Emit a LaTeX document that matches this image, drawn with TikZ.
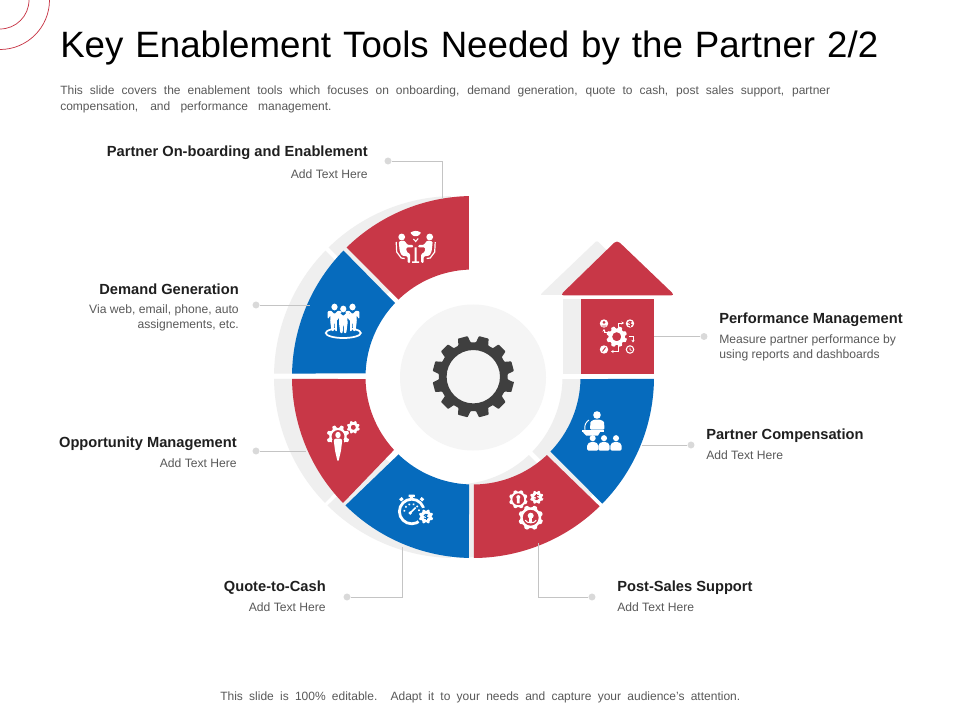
\documentclass[tikz,border=0pt]{standalone}
\usepackage{fontspec}
\usetikzlibrary{arrows.meta}
\setmainfont{Liberation Sans}
\definecolor{kred}{HTML}{C83747}
\definecolor{kblue}{HTML}{066BBD}
\definecolor{kshadow}{HTML}{EFEFEF}
\definecolor{kdisc}{HTML}{F5F5F5}
\definecolor{kgear}{HTML}{3F3F3F}
\definecolor{kline}{HTML}{C4C4C4}
\definecolor{kdot}{HTML}{D9D9D9}
\definecolor{ktext}{HTML}{595959}
\definecolor{khead}{HTML}{1F1F1F}
\tikzset{
 titletext/.style={inner sep=0,anchor=base west,font=\fontsize{27.5pt}{32pt}\selectfont,text=black},
 bodytext/.style={inner sep=0,anchor=base west,font=\fontsize{9pt}{11pt}\selectfont,text=ktext},
 headR/.style={inner sep=0,anchor=base east,font=\fontsize{11pt}{13pt}\bfseries\selectfont,text=khead},
 headL/.style={inner sep=0,anchor=base west,font=\fontsize{11pt}{13pt}\bfseries\selectfont,text=khead},
 subR/.style={inner sep=0,anchor=base east,font=\fontsize{9.1pt}{11pt}\selectfont,text=ktext},
 subL/.style={inner sep=0,anchor=base west,font=\fontsize{9.1pt}{11pt}\selectfont,text=ktext},
 dotnode/.style={circle,fill=kdot,inner sep=0,minimum size=5.2pt},
 conn/.style={draw=kline,line width=0.55pt},
}
\newcommand{\ringseg}[5]{\fill[#5] (#1:181) arc[start angle=#1,end angle=#2,radius=181] -- (#4:107.5) arc[start angle=#4,end angle=#3,radius=107.5] -- cycle;}
\newcommand{\allsegs}[2]{%
 \ringseg{91.27}{134.3}{92.14}{133.9}{#1}
 \ringseg{135.7}{178.9}{136.5}{178.1}{#2}
 \ringseg{180.6}{224.1}{181.1}{222.7}{#1}
 \ringseg{225.2}{268.7}{226.1}{267.9}{#2}
 \ringseg{270.3}{314.4}{270.5}{313.4}{#1}
 \ringseg{315.6}{359.4}{316.1}{358.9}{#2}
}
\newcommand{\gearfill}[7]{%
 \pgfmathsetmacro{\gstep}{360/#1}
 \fill[even odd rule,rounded corners=0.5] (#6-#4:#2)
 \foreach \gi in {1,...,#1}{
   -- (#6+\gi*\gstep-\gstep+#4:#2) -- (#6+\gi*\gstep-\gstep+#5:#3)
   -- (#6+\gi*\gstep-#5:#3) -- (#6+\gi*\gstep-#4:#2)
 } -- cycle (0,0) circle[radius=#7];
}
\newcommand{\dollarmark}[1]{%
 \draw[#1,line width=0.7pt,line cap=round] (1.7,-1.6) .. controls (0.8,-2.6) and (-1.9,-2.4) .. (-1.7,-0.9) .. controls (-1.5,0.2) and (1.7,-0.1) .. (1.7,1.1) .. controls (1.7,2.6) and (-1,2.6) .. (-1.8,1.6);
 \draw[#1,line width=0.5pt] (0,-3) -- (0,3);
}
\newcommand{\personbust}[3]{%
 \begin{scope}[shift={(#1,#2)},scale=#3]
 \fill[white] (0,-3.7) circle[radius=3.2];
 \fill[white,rounded corners=1.2] (-6,9.5) -- (-6,3) -- (-2.6,0.2) -- (2.6,0.2) -- (6,3) -- (6,9.5) -- cycle;
 \end{scope}
}
\newcommand{\standman}[2]{%
 \begin{scope}[shift={(#1,#2)}]
 \fill[white] (0,-7) ellipse[x radius=3.1,y radius=3.4];
 \fill[white,rounded corners=0.6] (-7,-2.5) -- (-3.6,-3.4) -- (0,0) -- (3.6,-3.4) -- (7,-2.5) -- (6.7,5) -- (4,1.5) -- (4.3,7) -- (3,17) -- (0.6,17) -- (0.4,9) -- (-0.4,9) -- (-0.6,17) -- (-3,17) -- (-4.3,7) -- (-4,1.5) -- (-6.7,5) -- cycle;
 \end{scope}
}
\begin{document}
\begin{tikzpicture}[x=0.75pt,y=-0.75pt]
\useasboundingbox (0,0) rectangle (960,720);
\fill[white] (0,0) rectangle (960,720);
\draw[kred,line width=0.55pt] (49.5,0) arc[start angle=0,end angle=90,radius=49.5];
\draw[kred,line width=0.55pt] (29,0) arc[start angle=0,end angle=90,radius=29];
\node[titletext] (title) at (60,58) {\makebox[613.5pt][s]{Key Enablement Tools Needed by the Partner 2/2}};
\node[bodytext] (intro1) at (60,95) {\makebox[577.5pt][s]{This slide covers the enablement tools which focuses on onboarding, demand generation, quote to cash, post sales support, partner}};
\node[bodytext] (intro2) at (60,111) {\makebox[203.5pt][s]{compensation, and performance  management.}};
\node[bodytext] (footer) at (220,700) {\makebox[390pt][s]{This slide is 100\% editable. Adapt it to your needs and capture your audience's attention.}};
\begin{scope}[shift={(455,377)},yscale=-1]
 \allsegs{kshadow}{kshadow}
\end{scope}
\fill[kshadow] (563,299) rectangle (582,374);
\fill[kshadow,rounded corners=1.5] (540,295) -- (597,240.5) -- (650,295) -- cycle;
\begin{scope}[shift={(473,377)},yscale=-1]
 \allsegs{kred}{kblue}
\end{scope}
\fill[kred] (581,299) rectangle (654,374);
\fill[kred,rounded corners=3] (560,295.5) -- (617,240) -- (675,295.5) -- cycle;
\node[circle,fill=kdisc,inner sep=0,minimum size=109.5pt] (hub) at (473,377.5) {};
\begin{scope}[shift={(473.3,376.7)},kgear]
 \gearfill{12}{41}{34.5}{7}{10.5}{15}{26.7}
\end{scope}
\node[dotnode] (d1) at (388,161) {};
\node[dotnode] (d2) at (256,305) {};
\node[dotnode] (d3) at (256,451) {};
\node[dotnode] (d4) at (347,597) {};
\node[dotnode] (d5) at (592,597) {};
\node[dotnode] (d6) at (691,445) {};
\node[dotnode] (d7) at (704,336.5) {};
\coordinate (e1) at (442,199);
\coordinate (e2) at (310,305);
\coordinate (e3) at (306,451);
\coordinate (e4) at (402,547);
\coordinate (e5) at (538,543);
\coordinate (e6) at (642,445);
\coordinate (e7) at (654,336.5);
\draw[conn] (d1) -| (e1);
\draw[conn] (d2) -- (e2);
\draw[conn] (d3) -- (e3);
\draw[conn] (d4) -| (e4);
\draw[conn] (d5) -| (e5);
\draw[conn] (d6) -- (e6);
\draw[conn] (d7) -- (e7);
\node[headR] (h1) at (368,157) {Partner On-boarding and Enablement};
\node[subR] (s1) at (368,179) {Add Text Here};
\node[headR] (h2) at (239,295) {Demand Generation};
\node[subR] (s2a) at (239,314) {Via web, email, phone, auto};
\node[subR] (s2b) at (239,328) {assignements, etc.};
\node[headR] (h3) at (237,447) {Opportunity Management};
\node[subR] (s3) at (237,467) {Add Text Here};
\node[headR] (h4) at (326,591) {Quote-to-Cash};
\node[subR] (s4) at (326,611) {Add Text Here};
\node[headL] (h5) at (617,591) {Post-Sales Support};
\node[subL] (s5) at (617,611) {Add Text Here};
\node[headL] (h6) at (706,439) {Partner Compensation};
\node[subL] (s6) at (706,459) {Add Text Here};
\node[headL] (h7) at (719,324) {Performance Management};
\node[subL] (s7a) at (719,344) {Measure partner performance by};
\node[subL] (s7b) at (719,358) {using reports and dashboards};
\begin{scope}[shift={(415.7,247)}]
 \fill[white] (-14,-10) circle[radius=3.4] (14,-10) circle[radius=3.4];
 \fill[white,rounded corners=0.8] (-17,-5.5) -- (-11.5,-6.5) -- (-8,-2) -- (-2.5,-2) -- (-2.5,0.5) -- (-9.5,0.5) -- (-9,5) -- (-5.5,7) -- (-5.5,16) -- (-8,16) -- (-8,9.5) -- (-14,8.5) -- (-16,4) -- cycle;
 \fill[white,rounded corners=0.8] (17,-5.5) -- (11.5,-6.5) -- (8,-2) -- (2.5,-2) -- (2.5,0.5) -- (9.5,0.5) -- (9,5) -- (5.5,7) -- (5.5,16) -- (8,16) -- (8,9.5) -- (14,8.5) -- (16,4) -- cycle;
 \fill[white] (-1,0.5) rectangle (1,15) (-3.5,14.5) rectangle (3.5,16);
 \draw[white,line width=0.9pt] (-19.5,-5) -- (-19,5) -- (-14.5,11) -- (-11,11.5);
 \draw[white,line width=0.9pt] (19.5,-5) -- (19,5) -- (14.5,11) -- (11,11.5);
 \fill[white,rounded corners=0.6] (-5.5,-14.5) -- (-1.5,-16) -- (1.5,-16) -- (5.5,-14.5) -- (3,-11.5) -- (0,-10.5) -- (-3,-11.5) -- cycle;
 \draw[white,line width=0.8pt] (-2.3,-8) -- (0,-5.5) -- (2.5,-8.5);
\end{scope}
\begin{scope}[shift={(343.3,320)}]
 \draw[white,line width=1.3pt] (0,13) ellipse[x radius=17.5,y radius=5];
\end{scope}
\standman{334.5}{314}
\standman{352.5}{314}
\begin{scope}[shift={(343.3,316)}]
 \fill[kblue] (-6.5,-3.5) rectangle (6.5,17.5);
\end{scope}
\standman{343.3}{316}
\begin{scope}[shift={(338,436.5)}]
 \begin{scope}[white]\gearfill{8}{11.5}{8.6}{8}{14}{22.5}{6.5}\end{scope}
 \fill[kred] (-6,3) rectangle (6,14);
 \fill[white] (0,-1.5) ellipse[x radius=2.7,y radius=3.2];
 \fill[white,rounded corners=0.6] (-4.3,3.5) -- (-2.6,2) -- (2.6,2) -- (4.3,3.5) -- (3,14) -- (0.6,24.5) -- (-0.6,24.5) -- (-3,14) -- cycle;
\end{scope}
\begin{scope}[shift={(353.3,427.3)},white]
 \gearfill{8}{6.6}{5}{9}{15}{22.5}{2.6}
\end{scope}
\begin{scope}[shift={(411.7,511.5)}]
 \draw[white,line width=2.1pt] (0,0) circle[radius=12.3];
 \fill[white,rounded corners=0.5] (-3.2,-17) rectangle (3.2,-14.3);
 \fill[white] (-1.3,-15) rectangle (1.3,-12);
 \fill[white,rotate=-40] (-1.7,-17.5) rectangle (1.7,-14.5);
 \fill[white,rotate=40] (-1.7,-17.5) rectangle (1.7,-14.5);
 \fill[kblue] (14.3,5) circle[radius=9];
 \draw[white,line width=1.2pt,dotted] (-7.5,0) arc[start angle=180,end angle=360,radius=7.5];
 \draw[white,line width=1.2pt] (-2,2) -- (4,-4);
 \fill[white] (-1.5,1.5) circle[radius=1.8];
\end{scope}
\begin{scope}[shift={(426,516.5)},white]
 \gearfill{8}{7.3}{5.6}{9}{15}{22.5}{0}
 \dollarmark{kblue}
\end{scope}
\begin{scope}[shift={(518.3,499.3)},white]
 \gearfill{8}{9.4}{7.8}{9}{14}{22.5}{6}
 \fill[white] (0,-2.2) circle[radius=2] (-1.4,-0.5) rectangle (1.4,4);
\end{scope}
\begin{scope}[shift={(536.7,497.3)},white]
 \gearfill{8}{6.8}{5.2}{9}{15}{22.5}{0}
 \dollarmark{kred}
\end{scope}
\begin{scope}[shift={(530.7,517.7)},white]
 \gearfill{8}{12.5}{10.5}{8}{14}{22.5}{8}
 \fill[white] (0,-2) circle[radius=3];
 \fill[white] (-1.7,0) rectangle (1.7,5);
 \draw[white,line width=0.8pt] (-5.5,2.5) .. controls (-4,6) and (4,6) .. (5.5,2.5);
\end{scope}
\begin{scope}[shift={(597,415)}]
 \fill[white] (0,0) circle[radius=3.8];
 \fill[white,rounded corners=0.8] (-7,14.5) -- (-6.5,6.5) -- (-2.5,4.5) -- (2.5,4.5) -- (7,6.5) -- (7.5,14.5) -- cycle;
 \fill[white] (-15,15.2) rectangle (7,17.2);
 \fill[white] (-14,17.2) -- (3,17.2) -- (1,20.5) -- (-11,20.5) -- cycle;
 \draw[white,line width=0.7pt] (-12,15) .. controls (-13,10) and (-11,7) .. (-8,5);
\end{scope}
\personbust{592.7}{441.7}{0.95}
\personbust{604}{441.7}{0.95}
\personbust{616}{441.7}{0.95}
\begin{scope}[shift={(616.7,336.7)},white]
 \gearfill{8}{10.5}{8.2}{10}{15}{22.5}{4.6}
\end{scope}
\fill[white] (604,323.5) circle[radius=4.2] (630,323.5) circle[radius=4.2] (604,349.5) circle[radius=4.2];
\draw[white,line width=0.8pt] (630,349.5) circle[radius=3.7];
\draw[white,line width=0.6pt] (630,347.5) -- (630,349.7) -- (631.5,350.5);
\fill[kred] (604,322.3) circle[radius=1.5] (601.6,325.6) rectangle (606.4,326.4);
\begin{scope}[shift={(630,323.5)}]
 \dollarmark{kred}
\end{scope}
\draw[kred,line width=0.7pt] (602.5,351.5) -- (605.5,347.5);
\draw[white,line width=0.7pt,-{Stealth[length=2pt,width=2.4pt]}] (618,329) -- (618,323) -- (624,323);
\draw[white,line width=0.7pt,-{Stealth[length=2pt,width=2.4pt]}] (604,332.5) -- (604,329);
\draw[white,line width=0.7pt] (604,332.5) -- (609,332.5);
\draw[white,line width=0.7pt,-{Stealth[length=2pt,width=2.4pt]}] (629,336.5) -- (633,336.5) -- (633,342.5);
\draw[white,line width=0.7pt,-{Stealth[length=2pt,width=2.4pt]}] (618,344.5) -- (618,351.5) -- (611,351.5);
\end{tikzpicture}
\end{document}
